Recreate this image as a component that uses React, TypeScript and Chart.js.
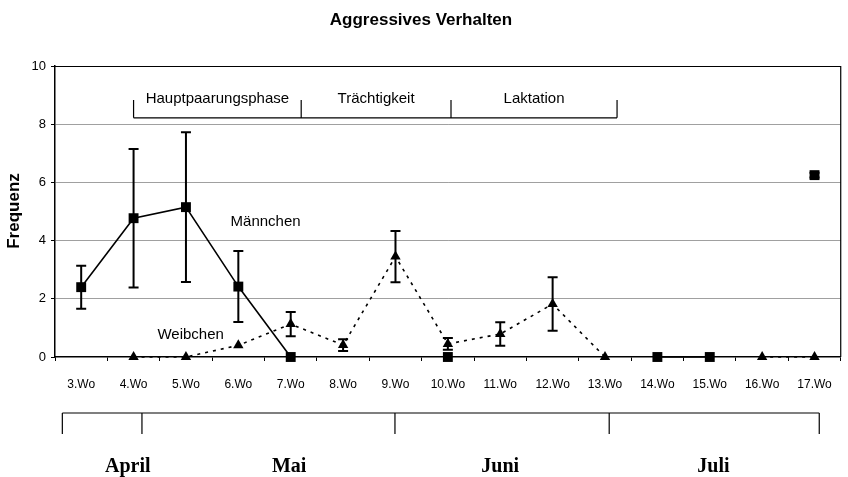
import React, { useEffect, useRef } from 'react';
import { Chart, registerables } from 'chart.js';

Chart.register(...registerables);

// ---- data ----
const weeks = ['3.Wo', '4.Wo', '5.Wo', '6.Wo', '7.Wo', '8.Wo', '9.Wo', '10.Wo', '11.Wo', '12.Wo', '13.Wo', '14.Wo', '15.Wo', '16.Wo', '17.Wo'];
const maleValues = [2.4, 4.77, 5.15, 2.42, 0, null, null, 0, null, null, null, 0, 0, null, 6.25];
const maleErrors = [0.74, 2.38, 2.57, 1.22, 0, null, null, 0, null, null, null, 0, 0, null, 0.08];
const femaleValues = [null, 0, 0, 0.4, 1.13, 0.41, 3.45, 0.45, 0.79, 1.82, 0, null, null, 0, 0];
const femaleErrors = [null, 0, 0, 0, 0.42, 0.2, 0.88, 0.2, 0.4, 0.92, 0, null, null, 0, 0];
const yTickValues = [0, 2, 4, 6, 8, 10];
const seriesNames = ['Männchen', 'Weibchen'];
const seriesLabelAt = [[3.52, 4.64], [2.09, 0.76]]; // [week index, value]
const phaseLabels = ['Hauptpaarungsphase', 'Trächtigkeit', 'Laktation'];
const phaseBounds = [1, 4.2, 7.06, 10.23]; // week index units
const phaseLineValue = 8.22;
const phaseTickTop = 8.83;
const phaseTextValue = 8.88;
const months = ['April', 'Mai', 'Juni', 'Juli'];
const monthBounds = [-0.36, 1.16, 5.99, 10.08, 14.09];
const monthLabelPos = [0.89, 3.97, 8.0, 12.07];
const titleText = 'Aggressives Verhalten';
const yTitle = 'Frequenz';

const SANS = '"Liberation Sans", Arial, sans-serif';
const SERIF = '"Liberation Serif", "Times New Roman", serif';

const decorPlugin = {
  id: 'decor',
  afterDatasetsDraw(chart: any) {
    const { ctx, chartArea, scales } = chart;
    const x = scales.x;
    const y = scales.y;
    ctx.save();
    // right border and top border
    ctx.strokeStyle = '#000';
    ctx.lineWidth = 1.2;
    ctx.beginPath();
    ctx.moveTo(chartArea.left, chartArea.top + 0.5);
    ctx.lineTo(chartArea.right, chartArea.top + 0.5);
    ctx.lineTo(chartArea.right, chartArea.bottom);
    ctx.stroke();

    // error bars
    const drawErr = (vals: (number | null)[], errs: (number | null)[]) => {
      ctx.strokeStyle = '#000';
      ctx.lineWidth = 2;
      vals.forEach((v, i) => {
        const e = errs[i];
        if (v === null || e === null || e <= 0) return;
        const px = x.getPixelForValue(i);
        const top = y.getPixelForValue(v + e);
        const bot = y.getPixelForValue(v - e);
        ctx.beginPath();
        ctx.moveTo(px, top);
        ctx.lineTo(px, bot);
        ctx.moveTo(px - 5, top);
        ctx.lineTo(px + 5, top);
        ctx.moveTo(px - 5, bot);
        ctx.lineTo(px + 5, bot);
        ctx.stroke();
      });
    };
    drawErr(maleValues, maleErrors);
    drawErr(femaleValues, femaleErrors);

    // phase brackets
    ctx.lineWidth = 1.2;
    const lineY = y.getPixelForValue(phaseLineValue);
    const tickTop = y.getPixelForValue(phaseTickTop);
    ctx.beginPath();
    ctx.moveTo(x.getPixelForValue(phaseBounds[0]), lineY);
    ctx.lineTo(x.getPixelForValue(phaseBounds[phaseBounds.length - 1]), lineY);
    phaseBounds.forEach((b) => {
      const px = x.getPixelForValue(b);
      ctx.moveTo(px, tickTop);
      ctx.lineTo(px, lineY);
    });
    ctx.stroke();
    ctx.fillStyle = '#000';
    ctx.font = `15px ${SANS}`;
    ctx.textAlign = 'center';
    ctx.textBaseline = 'middle';
    phaseLabels.forEach((t, i) => {
      const px = (x.getPixelForValue(phaseBounds[i]) + x.getPixelForValue(phaseBounds[i + 1])) / 2;
      ctx.fillText(t, px, y.getPixelForValue(phaseTextValue));
    });

    // series labels
    seriesNames.forEach((t, i) => {
      ctx.fillText(t, x.getPixelForValue(seriesLabelAt[i][0]), y.getPixelForValue(seriesLabelAt[i][1]));
    });
    ctx.restore();
  },
  afterDraw(chart: any) {
    const { ctx, scales } = chart;
    const x = scales.x;
    ctx.save();
    ctx.fillStyle = '#000';
    ctx.strokeStyle = '#000';
    // title
    ctx.font = `bold 17px ${SANS}`;
    ctx.textAlign = 'center';
    ctx.textBaseline = 'middle';
    ctx.fillText(titleText, 421, 20);
    // y title
    ctx.save();
    ctx.translate(14, 211);
    ctx.rotate(-Math.PI / 2);
    ctx.font = `bold 17px ${SANS}`;
    ctx.fillText(yTitle, 0, 0);
    ctx.restore();
    // month brackets
    const lineY = 413;
    const tickBot = 434;
    ctx.lineWidth = 1.2;
    ctx.beginPath();
    ctx.moveTo(x.getPixelForValue(monthBounds[0]), lineY);
    ctx.lineTo(x.getPixelForValue(monthBounds[monthBounds.length - 1]), lineY);
    monthBounds.forEach((b) => {
      const px = x.getPixelForValue(b);
      ctx.moveTo(px, lineY);
      ctx.lineTo(px, tickBot);
    });
    ctx.stroke();
    ctx.font = `bold 20px ${SERIF}`;
    months.forEach((m, i) => {
      ctx.fillText(m, x.getPixelForValue(monthLabelPos[i]), 467);
    });
    ctx.restore();
  },
};

export default function App() {
  const ref = useRef<HTMLCanvasElement | null>(null);
  useEffect(() => {
    document.body.style.margin = '0';
    if (!ref.current) return;
    const chart = new Chart(ref.current, {
      type: 'line',
      data: {
        labels: weeks,
        datasets: [
          {
            label: seriesNames[0],
            data: maleValues,
            borderColor: '#000',
            backgroundColor: '#000',
            borderWidth: 1.6,
            pointStyle: 'rect',
            pointRadius: 7,
            pointBorderWidth: 0,
            spanGaps: false,
            tension: 0,
            clip: false,
          },
          {
            label: seriesNames[1],
            data: femaleValues,
            borderColor: '#000',
            backgroundColor: '#000',
            borderWidth: 1.6,
            borderDash: [3, 5],
            pointStyle: 'triangle',
            pointRadius: 6,
            pointBorderWidth: 0,
            spanGaps: false,
            tension: 0,
            clip: false,
          },
        ],
      },
      options: {
        animation: false,
        responsive: true,
        maintainAspectRatio: false,
        layout: { padding: { top: 66, right: 5, bottom: 0, left: 0 } },
        plugins: { legend: { display: false }, tooltip: { enabled: false }, title: { display: false } },
        scales: {
          x: {
            type: 'category',
            offset: true,
            afterFit: (s: any) => { s.height = 120; },
            grid: { offset: true, drawOnChartArea: false, drawTicks: true, tickLength: 4, color: '#000' },
            border: { display: true, color: '#000', width: 1.5 },
            ticks: { color: '#000', font: { family: SANS, size: 12 }, padding: 16, maxRotation: 0, autoSkip: false },
          },
          y: {
            min: 0,
            max: 10,
            afterFit: (s: any) => { s.width = 55; },
            afterBuildTicks: (s: any) => { s.ticks = yTickValues.map((v) => ({ value: v })); },
            grid: {
              color: (c: any) => (c.tick && (c.tick.value === 0 || c.tick.value === 10) ? 'rgba(0,0,0,0)' : '#a0a0a0'),
              tickColor: '#000',
              tickLength: 4,
              lineWidth: 1,
            },
            border: { display: true, color: '#000', width: 1.5 },
            ticks: { color: '#000', font: { family: SANS, size: 13 }, padding: 5 },
          },
        },
      },
      plugins: [decorPlugin],
    });
    return () => chart.destroy();
  }, []);
  return (
    <div style={{ width: 848, height: 477, position: 'relative', background: '#fff' }}>
      <canvas ref={ref} />
    </div>
  );
}
